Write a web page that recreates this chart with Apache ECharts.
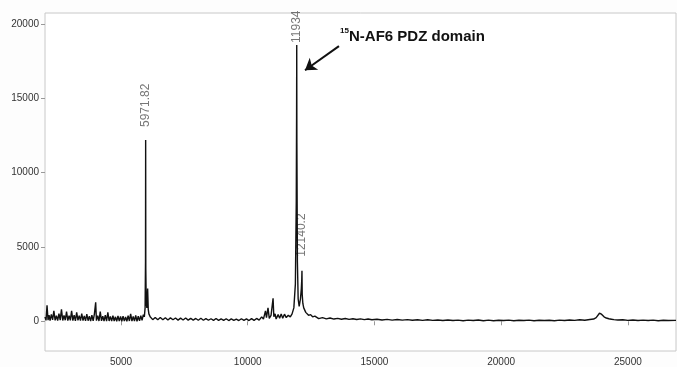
<!DOCTYPE html>
<html>
<head>
<meta charset="utf-8">
<script src="https://cdn.jsdelivr.net/npm/echarts@6/dist/echarts.min.js"></script>
<style>
  html, body { margin: 0; padding: 0; background: #fdfdfd; }
  #spectrum { width: 677px; height: 367px; }
</style>
</head>
<body>
<div id="spectrum"></div>
<script>
// m/z and intensity
let spectrumMz = [
  2000, 2040, 2080, 2120, 2160, 2200, 2250, 2300, 2350, 2400, 2450, 2500, 2550, 2600, 2650, 2700,
  2750, 2800, 2850, 2900, 2950, 3000, 3050, 3100, 3150, 3200, 3250, 3300, 3350, 3400, 3450, 3500,
  3550, 3600, 3650, 3700, 3750, 3800, 3850, 3900, 3950, 4000, 4030, 4080, 4130, 4180, 4230, 4280,
  4330, 4380, 4430, 4480, 4530, 4580, 4630, 4680, 4730, 4780, 4830, 4880, 4930, 4980, 5030, 5080,
  5130, 5180, 5230, 5280, 5330, 5380, 5430, 5480, 5530, 5580, 5630, 5680, 5730, 5780, 5830, 5880,
  5920, 5950, 5966, 5972, 5978, 5995, 6020, 6050, 6075, 6100, 6150,
  6250, 6350, 6450, 6550, 6650, 6750, 6850, 6950, 7050, 7150, 7250, 7350, 7450, 7550, 7650, 7750,
  7850, 7950, 8050, 8150, 8250, 8350, 8450, 8550, 8650, 8750, 8850, 8950, 9050, 9150, 9250, 9350,
  9450, 9550, 9650, 9750, 9850, 9950, 10050, 10150, 10250, 10350, 10450, 10550, 10620, 10700, 10740,
  10800, 10850, 10920, 10960, 11000, 11030, 11080, 11120, 11200, 11260, 11320, 11380, 11450, 11520,
  11600, 11680, 11750, 11820, 11880, 11915, 11928, 11934, 11940, 11960, 11990, 12030, 12080, 12115,
  12132, 12140, 12150, 12175, 12210, 12250, 12290, 12340, 12400, 12480, 12560, 12650,
  12800, 12950, 13100, 13250, 13400, 13550, 13700, 13850, 14000, 14150, 14300, 14450, 14600, 14750,
  14900, 15100, 15300, 15500, 15700, 15900, 16100, 16300, 16500, 16700, 16900, 17100, 17300, 17500,
  17700, 17900, 18100, 18300, 18500, 18700, 18900, 19100, 19300, 19500, 19700, 19900, 20100, 20300,
  20500, 20700, 20900, 21100, 21300, 21500, 21700, 21900, 22100, 22300, 22500, 22700, 22900, 23100,
  23300, 23500, 23650, 23750, 23820, 23880, 23920, 23960, 24000, 24060, 24150, 24250, 24350, 24450,
  24600, 24800, 25000, 25200, 25400, 25600, 25800, 26000, 26200, 26400, 26600, 26900
];
let spectrumIntensity = [
  300, 60, 1080, 80, 420, 50, 460, 90, 700, 60, 380, 40, 520, 80, 800, 50,
  400, 70, 650, 40, 380, 60, 700, 50, 420, 30, 600, 60, 380, 40, 520, 50,
  360, 30, 480, 40, 350, 20, 420, 30, 500, 1280, 40, 380, 20, 650, 30, 340,
  20, 420, 10, 600, 20, 330, 10, 380, 20, 300, 0, 360, 10, 320, 0, 340,
  10, 300, 0, 380, 20, 500, 10, 320, 20, 400, 0, 340, 30, 380, 60, 450,
  300, 900, 4000, 12200, 3500, 1200, 900, 2200, 800, 500, 300,
  110, 260, 100, 250, 100, 240, 90, 230, 100, 220, 80, 210, 90, 220, 80, 200,
  80, 190, 70, 200, 70, 180, 70, 170, 60, 190, 60, 160, 60, 170, 50, 160,
  60, 150, 50, 170, 60, 160, 50, 180, 60, 190, 80, 300, 150, 700, 250,
  900, 200, 400, 300, 1550, 300, 500, 150, 450, 200, 500, 200, 480, 250,
  400, 300, 500, 900, 2500, 8000, 14000, 18600, 12000, 4000, 1500, 1000, 1500, 2200,
  2800, 3400, 1800, 1200, 900, 1000, 600, 700, 400, 450, 300, 350,
  180, 250, 160, 220, 150, 200, 140, 190, 130, 170, 120, 160, 110, 150,
  100, 140, 90, 130, 80, 120, 80, 110, 70, 100, 60, 100, 60, 90,
  50, 90, 50, 80, 40, 80, 50, 90, 40, 80, 40, 70, 50, 80,
  40, 70, 50, 80, 40, 70, 50, 70, 40, 80, 50, 90, 60, 100,
  70, 120, 150, 250, 380, 540, 460, 480, 380, 300, 220, 170, 140, 110,
  90, 100, 60, 90, 50, 80, 50, 80, 40, 70, 50, 60
];

// labelled peaks
let peakMz = [5971.82, 11934, 12140.2];
let peakIntensity = [12200, 18600, 3400];
let peakLabels = ['5971.82', '11934', '12140.2'];
let peakLabelGap = [13, 2, 14];

// axis ticks
let xTicks = [5000, 10000, 15000, 20000, 25000];
let yTicks = [0, 5000, 10000, 15000, 20000];

// arrow pointing at the main peak (tail, head)
let arrowTail = [13600, 18520];
let arrowHead = [12260, 16900];

let chart = echarts.init(document.getElementById('spectrum'));

let traceData = spectrumMz.map((mz, i) => [mz, spectrumIntensity[i]]);
let peakData = peakMz.map((mz, i) => ({
  value: [mz, peakIntensity[i]],
  label: { distance: peakLabelGap[i], formatter: peakLabels[i] }
}));

let axisFont = { fontFamily: 'Liberation Sans, Arial, sans-serif', fontSize: 10, color: '#333' };
let plainNumber = v => String(v);

let option = {
  backgroundColor: '#fdfdfd',
  animation: false,
  grid: {
    left: 45, right: 1, top: 13, bottom: 16,
    show: true, borderColor: '#c8c8c8', borderWidth: 1, backgroundColor: '#ffffff'
  },
  xAxis: {
    type: 'value',
    min: 2000,
    max: 26900,
    axisLine: { show: false },
    splitLine: { show: false },
    axisTick: { show: true, length: 4, lineStyle: { color: '#999' }, customValues: xTicks },
    axisLabel: Object.assign({ margin: 6, customValues: xTicks, formatter: plainNumber }, axisFont)
  },
  yAxis: {
    type: 'value',
    min: -2000,
    max: 20750,
    axisLine: { show: false },
    splitLine: { show: false },
    axisTick: { show: true, length: 4, lineStyle: { color: '#999' }, customValues: yTicks },
    axisLabel: Object.assign({ margin: 6, customValues: yTicks, formatter: plainNumber }, axisFont)
  },
  series: [
    {
      type: 'line',
      data: traceData,
      showSymbol: false,
      sampling: 'none',
      lineStyle: { color: '#111', width: 1.4 },
      markLine: {
        silent: true,
        symbol: ['none', 'arrow'],
        symbolSize: 11,
        label: { show: false },
        lineStyle: { color: '#111', width: 2, type: 'solid' },
        data: [[{ coord: arrowTail }, { coord: arrowHead }]]
      }
    },
    {
      type: 'scatter',
      data: peakData,
      symbolSize: 0,
      label: {
        show: true,
        position: 'top',
        rotate: 90,
        align: 'left',
        verticalAlign: 'middle',
        fontFamily: 'Liberation Sans, Arial, sans-serif',
        fontSize: 12,
        color: '#555'
      }
    }
  ],
  graphic: [
    {
      type: 'text', left: 340, top: 27,
      style: { text: '15', fontFamily: 'Liberation Sans, Arial, sans-serif', fontSize: 8, fontWeight: 'bold', fill: '#111' }
    },
    {
      type: 'text', left: 349, top: 29,
      style: { text: 'N-AF6 PDZ domain', fontFamily: 'Liberation Sans, Arial, sans-serif', fontSize: 15, fontWeight: 'bold', fill: '#111' }
    }
  ]
};

chart.setOption(option);
</script>
</body>
</html>
